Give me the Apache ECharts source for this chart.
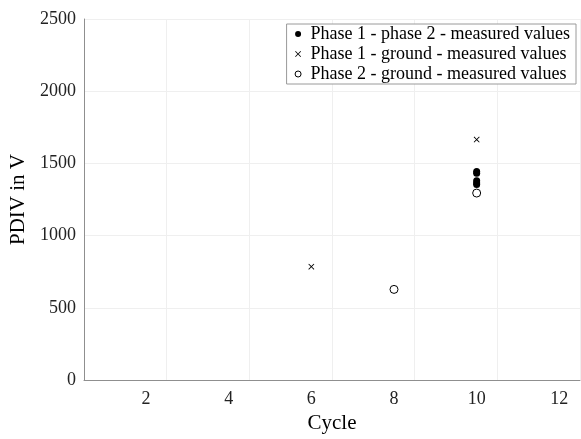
<!DOCTYPE html>
<html>
<head>
<meta charset="utf-8">
<script src="https://cdn.jsdelivr.net/npm/echarts@6/dist/echarts.min.js"></script>
<style>html,body{margin:0;padding:0;background:#fff;}#c{width:581px;height:439px;}</style>
</head>
<body>
<div id="c"></div>
<script>
const seriesNames = ['Phase 1 - phase 2 - measured values', 'Phase 1 - ground - measured values', 'Phase 2 - ground - measured values'];
const p12Cycle = [10, 10, 10, 10, 10];
const p12Volt = [1445, 1432, 1380, 1365, 1355];
const p1gCycle = [6, 10];
const p1gVolt = [785, 1665];
const p2gCycle = [8, 10];
const p2gVolt = [628, 1295];
const xTicks = [2, 4, 6, 8, 10, 12];
const yTicks = [0, 500, 1000, 1500, 2000, 2500];

const FONT = 'Liberation Serif';
const pair = (xs, ys) => xs.map((x, i) => [x, ys[i]]);
const crossPath = 'path://M0,1 L1,0 L5,4 L9,0 L10,1 L6,5 L10,9 L9,10 L5,6 L1,10 L0,9 L4,5 Z';

const chart = echarts.init(document.getElementById('c'), null, {renderer: 'canvas'});
chart.setOption({
  animation: false,
  backgroundColor: '#fff',
  grid: {left: 84, right: 1, top: 19, bottom: 54, containLabel: false},
  legend: {
    orient: 'vertical', right: 5, top: 24,
    padding: [1, 6, 1, 8],
    itemGap: 2, itemWidth: 7, itemHeight: 6,
    borderColor: '#9a9a9a', borderWidth: 1, backgroundColor: '#fff',
    textStyle: {fontFamily: FONT, fontSize: 18, color: '#000', padding: [0, 0, 0, 4]},
    data: [
      {name: seriesNames[0], icon: 'circle', itemStyle: {color: '#000'}},
      {name: seriesNames[1], icon: crossPath, itemStyle: {color: '#000'}},
      {name: seriesNames[2], icon: 'circle', itemStyle: {color: '#fff', borderColor: '#000', borderWidth: 1}}
    ]
  },
  xAxis: {
    type: 'value', min: 0.5, max: 12.5, interval: 2,
    name: 'Cycle', nameLocation: 'middle', nameGap: 32,
    nameTextStyle: {fontFamily: FONT, fontSize: 21, color: '#000'},
    axisLine: {lineStyle: {color: '#8f8f8f'}},
    axisTick: {show: false},
    axisLabel: {fontFamily: FONT, fontSize: 18, color: '#222', margin: 10,
      customValues: xTicks},
    splitLine: {show: true, lineStyle: {color: '#efefef'}},
    customValues: xTicks
  },
  yAxis: {
    type: 'value', min: 0, max: 2500, interval: 500,
    name: 'PDIV in V', nameLocation: 'middle', nameGap: 43,
    nameTextStyle: {fontFamily: FONT, fontSize: 21, color: '#000'},
    axisLine: {show: true, lineStyle: {color: '#8f8f8f'}},
    axisTick: {show: false},
    axisLabel: {fontFamily: FONT, fontSize: 18, color: '#222', margin: 8,
      formatter: v => String(v)},
    splitLine: {show: true, lineStyle: {color: '#efefef'}}
  },
  series: [
    {name: seriesNames[0], type: 'scatter', symbol: 'circle', symbolSize: 7,
      itemStyle: {color: '#000', opacity: 1}, data: pair(p12Cycle, p12Volt)},
    {name: seriesNames[1], type: 'scatter', symbol: crossPath, symbolSize: 6,
      itemStyle: {color: '#000', opacity: 1}, data: pair(p1gCycle, p1gVolt)},
    {name: seriesNames[2], type: 'scatter', symbol: 'circle', symbolSize: 8,
      itemStyle: {color: '#fff', borderColor: '#000', borderWidth: 1, opacity: 1}, data: pair(p2gCycle, p2gVolt)}
  ]
});
</script>
</body>
</html>
